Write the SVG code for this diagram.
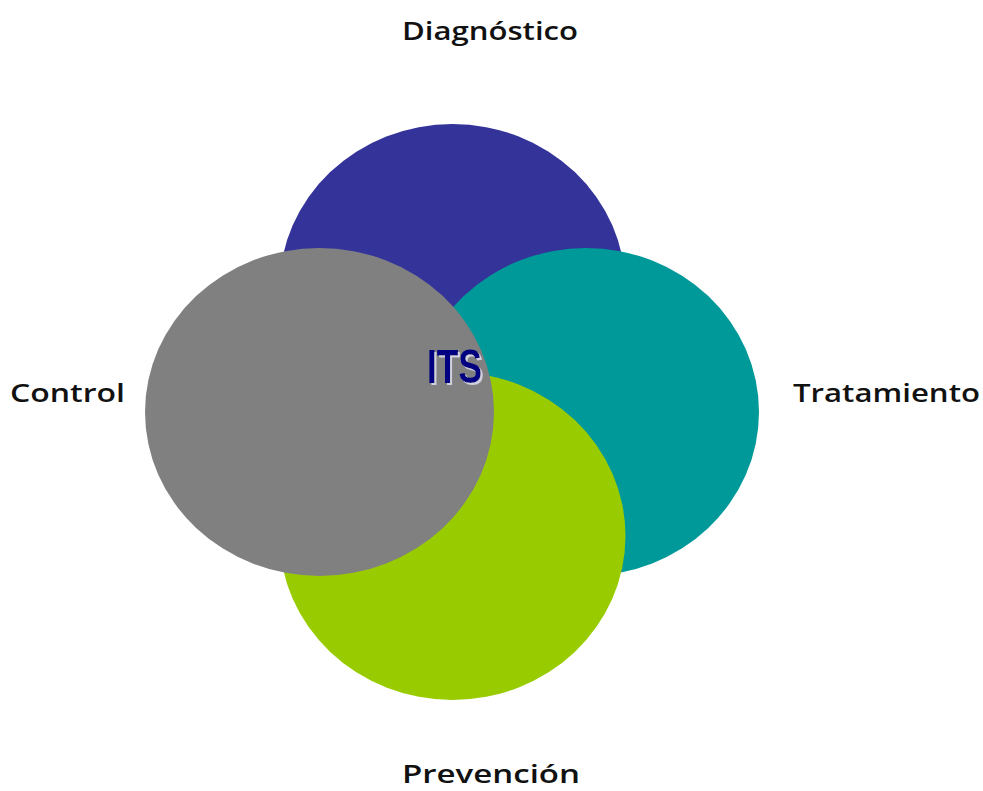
<svg xmlns="http://www.w3.org/2000/svg" width="983" height="791" viewBox="0 0 983 791">
<defs>
<filter id="sh" x="-20%" y="-20%" width="140%" height="140%">
<feDropShadow dx="2" dy="2" stdDeviation="0" flood-color="#d0d0e0" flood-opacity="1"/>
</filter>
</defs>
<style>
.lbl{font-family:"Open Sans","Liberation Sans",sans-serif;font-weight:600;font-size:26px;fill:#111}
.its{font-family:"Liberation Sans",sans-serif;font-weight:bold;font-size:48px;fill:#000080}
</style>
<rect width="983" height="791" fill="#fff"/>
<g id="diagnostico"><ellipse cx="452.5" cy="288" rx="173" ry="164" fill="#333399"/></g>
<g id="tratamiento"><ellipse cx="586" cy="412" rx="173" ry="164" fill="#009999"/></g>
<g id="prevencion"><ellipse cx="452.5" cy="536" rx="173" ry="164" fill="#99cc00"/></g>
<g id="control"><ellipse cx="319.5" cy="412" rx="174.5" ry="164" fill="#808080"/></g>
<g id="its">
<text class="its" x="427" y="383" filter="url(#sh)" textLength="55" lengthAdjust="spacingAndGlyphs">ITS</text>
</g>
<g id="labels">
<text class="lbl" x="402" y="40" textLength="176" lengthAdjust="spacingAndGlyphs">Diagnóstico</text>
<text class="lbl" x="10" y="402" textLength="115" lengthAdjust="spacingAndGlyphs">Control</text>
<text class="lbl" x="793" y="402" textLength="187" lengthAdjust="spacingAndGlyphs">Tratamiento</text>
<text class="lbl" x="402" y="783" textLength="178" lengthAdjust="spacingAndGlyphs">Prevención</text>
</g>
</svg>
